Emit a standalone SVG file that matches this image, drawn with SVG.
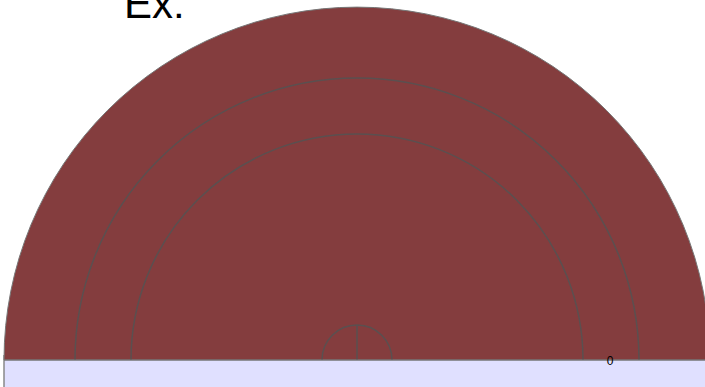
<svg xmlns="http://www.w3.org/2000/svg" width="705" height="387" viewBox="0 0 705 387">
<style>
.ring{fill:none;stroke:#5a5050;stroke-width:1.5}
.lbl{font-family:"Liberation Sans",Arial,sans-serif;fill:#000}
</style>
<rect width="705" height="387" fill="#fff"/>
<g id="base">
<rect x="4" y="359" width="701" height="28" fill="#e0e0ff"/>
<line x1="4" y1="355" x2="4" y2="387" stroke="#888" stroke-width="1.5"/>
</g>
<g id="disk">
<path d="M4,360 A353,353 0 0 1 710,360 Z" fill="#843d3e" stroke="#777" stroke-width="1"/>
</g>
<g id="connectors">
<path class="ring" d="M75,360 A282,282 0 0 1 639,360"/>
<path class="ring" d="M131,360 A226,226 0 0 1 583,360"/>
<path class="ring" d="M322,360 A35,35 0 0 1 392,360"/>
<line class="ring" x1="357" y1="325" x2="357" y2="360"/>
<line x1="4" y1="360" x2="705" y2="360" stroke="#777" stroke-width="1"/>
</g>
<g id="labels">
<text class="lbl" x="124" y="18" font-size="42">Ex:</text>
<text class="lbl" x="610" y="364.5" font-size="12" text-anchor="middle">0</text>
</g>
</svg>
